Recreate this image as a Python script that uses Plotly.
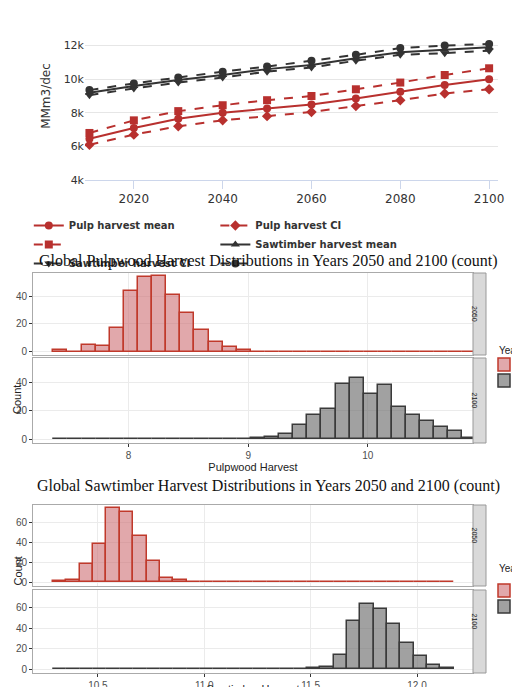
import plotly.graph_objects as go

# ---- top chart: harvest projections (MMm3/dec)
years = [2010, 2020, 2030, 2040, 2050, 2060, 2070, 2080, 2090, 2100]
pulp_mean = [6450, 7100, 7650, 8000, 8250, 8500, 8850, 9250, 9650, 10000]
pulp_ci_lo = [6100, 6700, 7200, 7550, 7800, 8050, 8400, 8750, 9150, 9400]
pulp_ci_hi = [6800, 7550, 8100, 8450, 8750, 9000, 9400, 9800, 10250, 10650]
saw_mean = [9200, 9600, 9950, 10250, 10600, 10850, 11250, 11600, 11750, 11900]
saw_ci_lo = [9050, 9450, 9800, 10100, 10450, 10700, 11100, 11450, 11550, 11700]
saw_ci_hi = [9350, 9750, 10100, 10450, 10750, 11100, 11450, 11850, 12000, 12100]

# ---- histograms (30 bins each)
pulp_bin_start, pulp_bin_width = 7.37, 0.118
pulp_2050 = [1, 0, 5, 4, 17, 44, 54, 55, 41, 28, 16, 7, 3, 1] + [0] * 16
pulp_2100 = [0] * 14 + [1, 2, 4, 10, 17, 21, 39, 43, 32, 38, 23, 17, 13, 9, 6, 1]
saw_bin_start, saw_bin_width = 10.289, 0.0628
saw_2050 = [1, 2, 18, 38, 74, 70, 46, 21, 4, 2] + [0] * 20
saw_2100 = [0] * 19 + [1, 2, 14, 47, 63, 59, 44, 26, 13, 4, 1]

RED = "#b8302e"
DARK = "#333333"
FILL_RED = "rgba(205,110,115,0.6)"
FILL_GREY = "rgba(110,110,110,0.65)"
EDGE_RED = "#c0392b"
EDGE_GREY = "#3a3a3a"
fig = go.Figure()

def line(y, name, color, dash, symbol):
    fig.add_trace(go.Scatter(x=years, y=y, name=name, mode="lines+markers",
                             line=dict(color=color, width=2, dash=dash),
                             marker=dict(symbol=symbol, size=8, color=color)))

line(pulp_mean, "Pulp harvest mean", RED, "solid", "circle")
line(pulp_ci_lo, "Pulp harvest CI", RED, "dash", "diamond")
line(pulp_ci_hi, " ", RED, "dash", "square")
line(saw_mean, "Sawtimber harvest mean", DARK, "solid", "triangle-up")
line(saw_ci_lo, "Sawtimber harvest CI", DARK, "dash", "triangle-down")
line(saw_ci_hi, " ", DARK, "dash", "circle")

def centers(start, width, n):
    return [start + width * (i + 0.5) for i in range(n)]

hist_sets = [
    ("x2", "y2", pulp_2050, pulp_bin_start, pulp_bin_width, True),
    ("x3", "y3", pulp_2100, pulp_bin_start, pulp_bin_width, False),
    ("x4", "y4", saw_2050, saw_bin_start, saw_bin_width, True),
    ("x5", "y5", saw_2100, saw_bin_start, saw_bin_width, False),
]
for xa, ya, counts, start, width, red in hist_sets:
    fig.add_trace(go.Bar(
        x=centers(start, width, len(counts)), y=counts, width=width,
        xaxis=xa, yaxis=ya, showlegend=False,
        marker=dict(color=FILL_RED if red else FILL_GREY,
                    line=dict(color=EDGE_RED if red else EDGE_GREY, width=1.5))))

def fr(px):
    return 1 - px / 687

hx = [25 / 520, 465 / 520]
grid = "#ebebeb"
tf = dict(size=10, color="#4d4d4d", family="Liberation Sans")
hist_x = dict(domain=hx, showgrid=True, gridcolor=grid, showline=True, mirror=True,
              linecolor="#aaaaaa", ticks="outside", ticklen=3, tickcolor="#333",
              tickfont=tf, zeroline=False, automargin=False)
hist_y = dict(showgrid=True, gridcolor=grid, showline=True, mirror=True, linecolor="#aaaaaa",
              ticks="outside", ticklen=3, tickcolor="#333", zeroline=False,
              tickfont=tf, automargin=False)
xtitle = dict(size=11, color="#222", family="Liberation Sans")

fig.update_layout(
    width=520, height=687, margin=dict(l=0, r=0, t=0, b=0, autoexpand=False),
    paper_bgcolor="white", plot_bgcolor="white", bargap=0, barmode="overlay",
    font=dict(family="DejaVu Sans", color="#333"),
    xaxis=dict(domain=[77 / 520, 490 / 520], anchor="y", range=[2009, 2102],
               tickvals=[2020, 2040, 2060, 2080, 2100], showgrid=False, automargin=False,
               showline=True, linecolor="#ccd6eb", ticks="outside", tickcolor="#ccd6eb",
               ticklen=8, tickfont=dict(size=12, color="#333")),
    yaxis=dict(domain=[fr(172), fr(4)], anchor="x", range=[4000, 14000], automargin=False,
               tickvals=[4000, 6000, 8000, 10000, 12000, 14000],
               ticktext=["4k", "6k", "8k", "10k", "12k", "14k"], gridcolor="#e6e6e6",
               zeroline=False, tickfont=dict(size=11, color="#333"),
               title=dict(text="MMm3/dec", font=dict(size=12, color="#333"), standoff=10)),
    xaxis2=dict(hist_x, anchor="y2", range=[7.2, 10.88], showticklabels=False, ticks=""),
    yaxis2=dict(hist_y, domain=[fr(347), fr(265)], anchor="x2", range=[-2.5, 57], tickvals=[0, 20, 40]),
    xaxis3=dict(hist_x, anchor="y3", range=[7.2, 10.88], tickvals=[8, 9, 10, 11],
                title=dict(text="Pulpwood Harvest", font=xtitle, standoff=3)),
    yaxis3=dict(hist_y, domain=[fr(435), fr(350)], anchor="x3", range=[-2.5, 57], tickvals=[0, 20, 40]),
    xaxis4=dict(hist_x, anchor="y4", range=[10.195, 12.263], showticklabels=False, ticks=""),
    yaxis4=dict(hist_y, domain=[fr(578), fr(497)], anchor="x4", range=[-3.5, 77], tickvals=[0, 20, 40, 60]),
    xaxis5=dict(hist_x, anchor="y5", range=[10.195, 12.263], tickvals=[10.5, 11.0, 11.5, 12.0],
                ticktext=["10.5", "11.0", "11.5", "12.0"],
                title=dict(text="Sawtimber Harvest", font=xtitle, standoff=1)),
    yaxis5=dict(hist_y, domain=[fr(665), fr(582)], anchor="x5", range=[-3.5, 77], tickvals=[0, 20, 40, 60]),
    legend=dict(orientation="h", x=0.04, y=fr(203), xanchor="left", yanchor="top",
                font=dict(size=10, color="#333", weight="bold"), itemwidth=30,
                tracegroupgap=0, bgcolor="rgba(0,0,0,0)"),
)

# titles
for txt, ypx in [("Global Pulpwood Harvest Distributions in Years 2050 and 2100 (count)", 253),
                 ("Global Sawtimber Harvest Distributions in Years 2050 and 2100 (count)", 489)]:
    fig.add_annotation(text=txt, xref="paper", yref="paper", x=0.5, y=fr(ypx), showarrow=False,
                       font=dict(family="Liberation Serif", size=16, color="#111"))
for ypx in [392, 580]:
    fig.add_annotation(text="Count", xref="paper", yref="paper", x=1 / 520, y=fr(ypx), xanchor="left",
                       textangle=-90, showarrow=False,
                       font=dict(family="Liberation Sans", size=11, color="#222"))

# facet strips
for top, bot, lab in [(265, 347, "2050"), (350, 435, "2100"), (497, 578, "2050"), (582, 665, "2100")]:
    fig.add_shape(type="rect", xref="paper", yref="paper", x0=465 / 520, x1=478 / 520,
                  y0=fr(bot), y1=fr(top), fillcolor="#d9d9d9", line=dict(color="#999", width=1))
    fig.add_annotation(text=lab, xref="paper", yref="paper", x=471.5 / 520, y=fr((top + bot) / 2),
                       textangle=90, showarrow=False,
                       font=dict(size=7, color="#1a1a1a", family="Liberation Sans"))

# Year legends for histograms
for ytitle in [342, 568]:
    fig.add_annotation(text="Year", xref="paper", yref="paper", x=489 / 520, y=fr(ytitle),
                       xanchor="left", showarrow=False,
                       font=dict(size=10, family="Liberation Sans", color="#222"))
    for k, (lab, fill, edge) in enumerate([("2050", FILL_RED, EDGE_RED), ("2100", FILL_GREY, EDGE_GREY)]):
        y0 = ytitle + 8 + k * 16
        fig.add_shape(type="rect", xref="paper", yref="paper", x0=490 / 520, x1=502 / 520,
                      y0=fr(y0 + 13), y1=fr(y0), fillcolor=fill, line=dict(color=edge, width=1.5))
        fig.add_annotation(text=lab, xref="paper", yref="paper", x=504 / 520, y=fr(y0 + 6.5),
                           xanchor="left", showarrow=False,
                           font=dict(size=8, family="Liberation Sans", color="#222"))

fig.write_html("out.html")
